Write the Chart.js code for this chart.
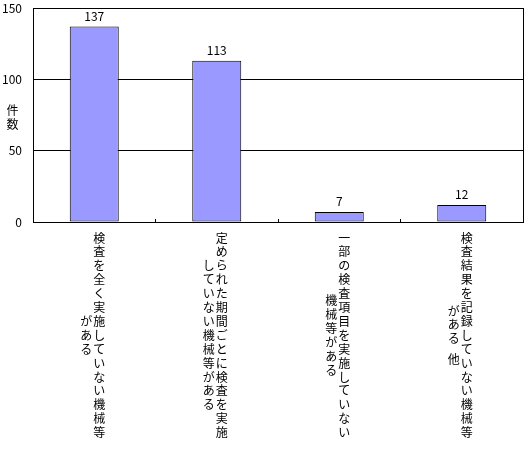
<!DOCTYPE html>
<html>
<head>
<meta charset="utf-8">
<script src="https://cdn.jsdelivr.net/npm/chart.js@4"></script>
<style>
  body { margin: 0; background: #ffffff; }
  #wrap { width: 531px; height: 453px; }
</style>
</head>
<body>
<div id="wrap"><canvas id="inspection-chart"></canvas></div>
<script>
// each category label is written in vertical columns, right column first
let categoryColumns = [
  ["検査を全く実施していない機械等", "がある"],
  ["定められた期間ごとに検査を実施", "していない機械等がある"],
  ["一部の検査項目を実施していない", "機械等がある"],
  ["検査結果を記録していない機械等", "がある 他"],
];
let counts = [137, 113, 7, 12];
let yTicks = [0, 50, 100, 150];
let yTitle = ["件", "数"];

let fontFamily = "'Noto Sans CJK JP', 'Liberation Sans', sans-serif";

// rows taken by a column: a half-width space only takes half a row
function columnRows(text) {
  let rows = 0;
  for (let ch of text) rows += ch === " " ? 0.5 : 1;
  return rows;
}

let verticalLabels = {
  id: "verticalLabels",
  afterDraw(chart) {
    let ctx = chart.ctx;
    let xScale = chart.scales.x;
    let rowPitch = 13.9;
    let colPitch = 13;
    ctx.save();
    ctx.font = "12px " + fontFamily;
    ctx.fillStyle = "#000000";
    ctx.textAlign = "center";
    ctx.textBaseline = "middle";
    categoryColumns.forEach((cols, i) => {
      let cx = xScale.getPixelForTick(i) - 1.5;
      let maxRows = Math.max(...cols.map(columnRows));
      cols.forEach((text, c) => {
        let x = cx + ((cols.length - 1) / 2 - c) * colPitch;
        let row = (maxRows - columnRows(text)) / 2;
        for (let ch of text) {
          if (ch === " ") {
            row += 0.5;
            continue;
          }
          ctx.fillText(ch, x, xScale.top + 16 + row * rowPitch);
          row += 1;
        }
      });
    });

    // y axis title, stacked characters
    let yScale = chart.scales.y;
    let mid = yScale.getPixelForValue(75) + 2;
    yTitle.forEach((ch, k) => {
      ctx.fillText(ch, 12.5, mid + (k - (yTitle.length - 1) / 2) * 14);
    });

    // values above the bars
    let meta = chart.getDatasetMeta(0);
    meta.data.forEach((bar, i) => {
      ctx.fillText(String(counts[i]), bar.x, bar.y - 10.5);
    });
    ctx.restore();
  },
};

let inspectionChart = new Chart("inspection-chart", {
  type: "bar",
  data: {
    labels: categoryColumns.map((cols) => cols.join("")),
    datasets: [
      {
        label: "件数",
        data: counts,
        backgroundColor: "#9999ff",
        borderColor: "#000000",
        borderWidth: 1,
        borderSkipped: false,
        barPercentage: 0.4,
        categoryPercentage: 1,
      },
    ],
  },
  options: {
    responsive: true,
    maintainAspectRatio: false,
    animation: false,
    layout: {
      padding: { top: 8, right: 8, left: 0, bottom: 0 },
    },
    plugins: {
      legend: { display: false },
      tooltip: { enabled: false },
      title: { display: false },
    },
    scales: {
      x: {
        offset: true,
        ticks: { display: false },
        grid: {
          offset: true,
          drawOnChartArea: false,
          drawTicks: true,
          tickLength: -3,
          color: "#000000",
        },
        border: { display: true, color: "#000000", width: 1 },
        afterFit: (scale) => {
          scale.height = 231;
          scale.paddingLeft = 0;
          scale.paddingRight = 0;
        },
      },
      y: {
        min: 0,
        max: 150,
        afterBuildTicks: (scale) => {
          scale.ticks = yTicks.map((v) => ({ value: v }));
        },
        ticks: {
          color: "#000000",
          padding: 11,
          font: { family: fontFamily, size: 12 },
        },
        grid: {
          color: "#000000",
          lineWidth: 1,
          drawTicks: false,
        },
        border: { display: true, color: "#000000", width: 1 },
        afterFit: (scale) => {
          scale.width = 33;
          scale.paddingTop = 0;
          scale.paddingBottom = 0;
        },
      },
      y1: {
        position: "right",
        min: 0,
        max: 150,
        ticks: { display: false },
        grid: { display: false, drawTicks: false },
        border: { display: true, color: "#000000", width: 1 },
        afterFit: (scale) => {
          scale.width = 0;
          scale.paddingTop = 0;
          scale.paddingBottom = 0;
        },
      },
    },
  },
  plugins: [verticalLabels],
});
</script>
</body>
</html>
